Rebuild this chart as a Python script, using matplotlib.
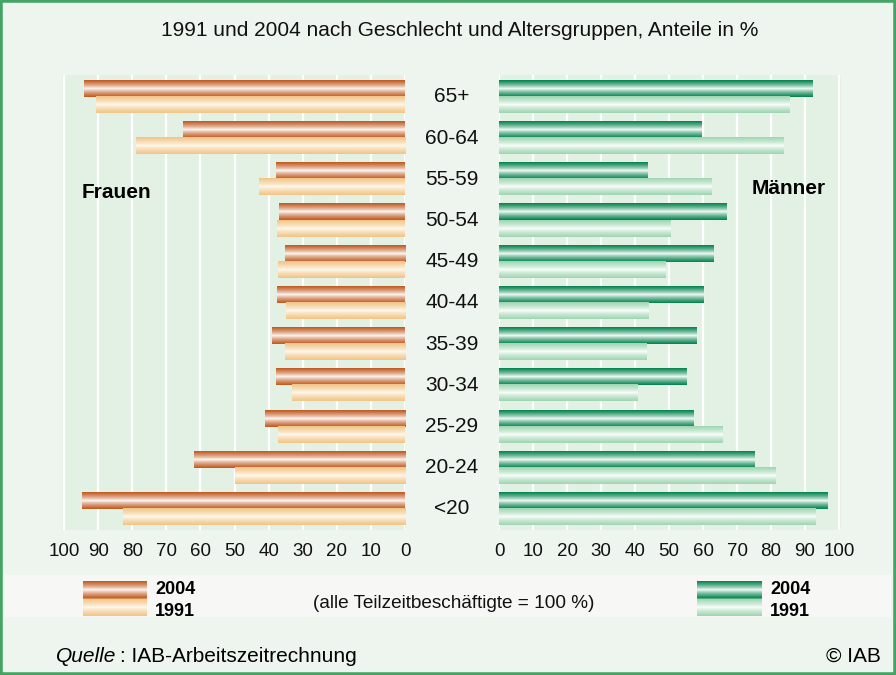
# ============================================================
# import
# ============================================================
import numpy as np
import matplotlib
matplotlib.use('Agg')
import matplotlib.pyplot as plt
from matplotlib.colors import to_rgb
from matplotlib.patches import Rectangle
from matplotlib.transforms import blended_transform_factory

plt.rcParams['font.family'] = ['Liberation Sans', 'DejaVu Sans']


# ============================================================
# data
# ============================================================
ages = ['65+', '60-64', '55-59', '50-54', '45-49', '40-44',
        '35-39', '30-34', '25-29', '20-24', '<20']
frauen_2004 = [94.1, 65.1, 37.8, 36.9, 35.2, 37.5, 39.0, 37.8, 41.1, 61.9, 94.7]
frauen_1991 = [90.6, 78.9, 42.8, 37.5, 37.2, 34.9, 35.2, 33.1, 37.2, 49.9, 82.7]
maenner_2004 = [92.1, 59.7, 43.8, 66.8, 63.2, 60.0, 58.2, 55.0, 57.1, 75.0, 96.5]
maenner_1991 = [85.3, 83.8, 62.6, 50.3, 49.1, 44.1, 43.5, 40.6, 65.6, 81.2, 93.2]
ticks = np.arange(0, 101, 10)
years = ['2004', '1991']


# ============================================================
# style
# ============================================================
W, H = 896, 675
FIG_BG = '#eef5ee'
PLOT_BG = '#e3f1e5'
BAND = '#f7f8f5'
BORDER = '#45a366'
BAR_H = 0.39

W04 = ('#c0571c', '#ffffff')
W91 = ('#f2c486', '#fffbf2')
M04 = ('#00824c', '#ffffff')
M91 = ('#9dd5b0', '#ffffff')


def px(x0, y0, x1, y1):
    # pixel box -> figure fraction rect
    return [x0 / W, 1 - y1 / H, (x1 - x0) / W, (y1 - y0) / H]


def stripe(cols, n=64, p=0.75):
    edge, mid = cols
    t = np.linspace(0, 1, n)
    w = np.abs(2 * t - 1) ** p
    e = np.array(to_rgb(edge))
    m = np.array(to_rgb(mid))
    return (m[None, :] * (1 - w[:, None]) + e[None, :] * w[:, None])[:, None, :]


def gradient_bars(ax, pos, vals, off, cols):
    bars = ax.barh(pos + off, vals, height=BAR_H, color='none', linewidth=0)
    img = stripe(cols)
    for b in bars:
        x0, y0 = b.get_x(), b.get_y()
        ax.imshow(img, extent=(x0, x0 + b.get_width(), y0, y0 + b.get_height()),
                  aspect='auto', interpolation='bilinear', zorder=2)


def panel(rect, v04, v91, c04, c91, xlim):
    ax = fig.add_axes(rect)
    ax.set_facecolor(PLOT_BG)
    for t in ticks:
        ax.axvline(t, color='white', lw=1.6, zorder=1)
    gradient_bars(ax, pos, np.array(v04), BAR_H / 2, c04)
    gradient_bars(ax, pos, np.array(v91), -BAR_H / 2, c91)
    ax.set_xlim(*xlim)
    ax.set_ylim(-0.51, len(ages) - 1 + 0.53)
    ax.set_xticks(ticks)
    ax.set_yticks([])
    ax.tick_params(length=0, labelsize=13.5, pad=9, colors='#111111')
    for s in ax.spines.values():
        s.set_visible(False)
    return ax


# ============================================================
# plot
# ============================================================
fig = plt.figure(figsize=(W / 100, H / 100), dpi=100, facecolor=FIG_BG)
pos = np.arange(len(ages))[::-1].astype(float)

ax_f = panel(px(62.3, 75, 405, 530), frauen_2004, frauen_1991, W04, W91, (100.5, 0))
ax_m = panel(px(499, 75, 840.7, 530), maenner_2004, maenner_1991, M04, M91, (0, 100.5))

# age labels in the middle column
tr = blended_transform_factory(fig.transFigure, ax_f.transData)
for p, a in zip(pos, ages):
    fig.text(452 / W, p, a, transform=tr, ha='center', va='center', fontsize=15, color='#111111')

fig.text(460 / W, 1 - 30 / H, '1991 und 2004 nach Geschlecht und Altersgruppen, Anteile in %',
         ha='center', va='center', fontsize=15, color='#111111')
fig.text(82 / W, 1 - 192 / H, 'Frauen', ha='left', va='center', fontsize=15, fontweight='bold')
fig.text(752 / W, 1 - 188 / H, 'Männer', ha='left', va='center', fontsize=15, fontweight='bold')

# legend band
fig.add_artist(Rectangle((5 / W, 1 - 617 / H), 886 / W, 42 / H, transform=fig.transFigure,
                         fc=BAND, ec='none', zorder=0))
for (x0, x1), c04, c91 in [((83, 147), W04, W91), ((697, 762), M04, M91)]:
    lax = fig.add_axes(px(x0, 581, x1, 616))
    lax.imshow(np.vstack([stripe(c04), stripe(c91)]), aspect='auto', interpolation='bilinear')
    lax.axis('off')
    fig.text((x1 + 8) / W, 1 - 590 / H, years[0], ha='left', va='center', fontsize=13, fontweight='bold')
    fig.text((x1 + 8) / W, 1 - 611 / H, years[1], ha='left', va='center', fontsize=13, fontweight='bold')

fig.text(454 / W, 1 - 604 / H, '(alle Teilzeitbeschäftigte = 100 %)', ha='center', va='center',
         fontsize=13.7, color='#111111')

fig.text(56 / W, 1 - 656 / H, 'Quelle', ha='left', va='center', fontsize=15, style='italic')
fig.text(120 / W, 1 - 656 / H, ': IAB-Arbeitszeitrechnung', ha='left', va='center', fontsize=15)
fig.text(881 / W, 1 - 656 / H, '© IAB', ha='right', va='center', fontsize=15)

fig.add_artist(Rectangle((0, 0), 1, 1, transform=fig.transFigure, fill=False,
                         ec=BORDER, lw=4, zorder=10))

fig.savefig('out.png', dpi=100, facecolor=FIG_BG)
